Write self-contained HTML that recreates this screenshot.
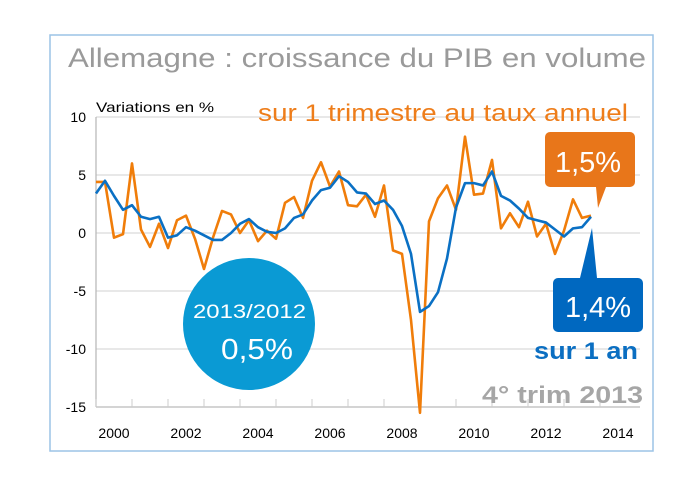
<!DOCTYPE html>
<html><head><meta charset="utf-8"><style>
body{margin:0;background:#fff;width:695px;height:483px;overflow:hidden;font-family:"Liberation Sans",sans-serif}
svg{position:absolute;left:0;top:0}
</style></head><body>
<svg width="695" height="483">
<rect x="50" y="35" width="603" height="416" fill="none" stroke="#9cc3e6" stroke-width="1.5"/>
<text x="68" y="67" font-size="27" fill="#9a9a9a" textLength="578" lengthAdjust="spacingAndGlyphs">Allemagne : croissance du PIB en volume</text>
<g id="grid"></g>
<g id="axes"></g>
<text x="96" y="112" font-size="14" fill="#000" textLength="118" lengthAdjust="spacingAndGlyphs">Variations en %</text>
<text x="258" y="121" font-size="24" fill="#ee7d1a" textLength="370" lengthAdjust="spacingAndGlyphs">sur 1 trimestre au taux annuel</text>
<circle cx="249" cy="324" r="66" fill="#0a9ad4"/>
<text x="193" y="318" font-size="19" fill="#fff" textLength="113" lengthAdjust="spacingAndGlyphs">2013/2012</text>
<text x="221" y="359" font-size="29" fill="#fff" textLength="72" lengthAdjust="spacingAndGlyphs">0,5%</text>
<g id="series"></g>
<path d="M550,132 h80 a5,5 0 0 1 5,5 v45 a5,5 0 0 1 -5,5 h-24 l-8,21 l-2,-21 h-46 a5,5 0 0 1 -5,-5 v-45 a5,5 0 0 1 5,-5z" fill="#e8761a"/>
<text x="588" y="172" font-size="29" fill="#fff" text-anchor="middle">1,5%</text>
<path d="M558,278 h22 l12,-50 l5,50 h41 a5,5 0 0 1 5,5 v44 a5,5 0 0 1 -5,5 h-80 a5,5 0 0 1 -5,-5 v-44 a5,5 0 0 1 5,-5z" fill="#0068c0"/>
<text x="598" y="317" font-size="29" fill="#fff" text-anchor="middle">1,4%</text>
<text x="534" y="359" font-size="24" font-weight="bold" fill="#0b6fc2" textLength="104" lengthAdjust="spacingAndGlyphs">sur 1 an</text>
<text x="482" y="403" font-size="24" font-weight="bold" fill="#a6a6a6" textLength="161" lengthAdjust="spacingAndGlyphs">4° trim 2013</text>
</svg>
<script>
const yTicks=[10,5,0,-5,-10,-15];
const yearLabels=[2000,2002,2004,2006,2008,2010,2012,2014];
const quarterly=[4.4,4.4,-0.4,-0.1,6.0,0.3,-1.2,0.8,-1.3,1.1,1.5,-0.5,-3.1,-0.4,1.9,1.6,0.0,1.1,-0.7,0.2,-0.5,2.6,3.1,1.3,4.5,6.1,4.0,5.3,2.4,2.3,3.3,1.4,4.1,-1.5,-1.8,-7.5,-15.5,1.0,3.0,4.1,2.0,8.3,3.3,3.4,6.3,0.4,1.7,0.5,2.7,-0.3,0.8,-1.8,0.2,2.9,1.3,1.5];
const annual=[3.4,4.5,3.2,2.0,2.4,1.4,1.2,1.4,-0.4,-0.2,0.5,0.2,-0.2,-0.6,-0.6,0.0,0.8,1.2,0.5,0.1,0.0,0.4,1.3,1.6,2.8,3.7,3.9,4.9,4.4,3.5,3.4,2.5,2.8,2.0,0.6,-1.8,-6.8,-6.3,-5.1,-2.2,2.2,4.3,4.3,4.1,5.3,3.2,2.8,2.1,1.3,1.1,0.9,0.3,-0.3,0.4,0.5,1.4];
const NS="http://www.w3.org/2000/svg";
const yS=v=>233-v*11.6;
const xQ=i=>96+9*i;
const xY=y=>96+36*(y-2000);
function mk(t,a,p){const e=document.createElementNS(NS,t);for(const k in a)e.setAttribute(k,a[k]);p.appendChild(e);return e;}
const grid=document.getElementById('grid'),axes=document.getElementById('axes'),ser=document.getElementById('series');
yTicks.forEach(v=>{
 const l=mk('line',{x1:96,x2:640,y1:yS(v),y2:yS(v),stroke:v===-15?'#bbb':'#d9d9d9','stroke-width':1.3},grid);
 
 
 const t=mk('text',{x:86,y:yS(v)+5,'font-size':14,'text-anchor':'end',fill:'#000'},axes);
 t.textContent=v;
 
 
});
const ya=mk('line',{x1:96,x2:96,y1:yS(10),y2:yS(-15),stroke:'#bbb','stroke-width':1.3},axes);


for(let y=2000;y<=2014;y++){
 const tk=mk('line',{x1:xY(y),x2:xY(y),y1:yS(-15),y2:yS(-15)-8,stroke:'#ccc','stroke-width':1},axes);
 
 
}
yearLabels.forEach(y=>{
 const t=mk('text',{x:xY(y)+18,y:438,'font-size':14,'text-anchor':'middle',fill:'#000'},axes);
 t.textContent=y;
 
 
});
function line(vals,col,name){
 const p=mk('polyline',{points:vals.map((v,i)=>xQ(i)+','+yS(v)).join(' '),fill:'none',stroke:col,'stroke-width':2.6,'stroke-linejoin':'round'},ser);
 
 
}
line(quarterly,'#f07d0a','quarterly-line');
line(annual,'#0a70c4','annual-line');
</script>
</body></html>
